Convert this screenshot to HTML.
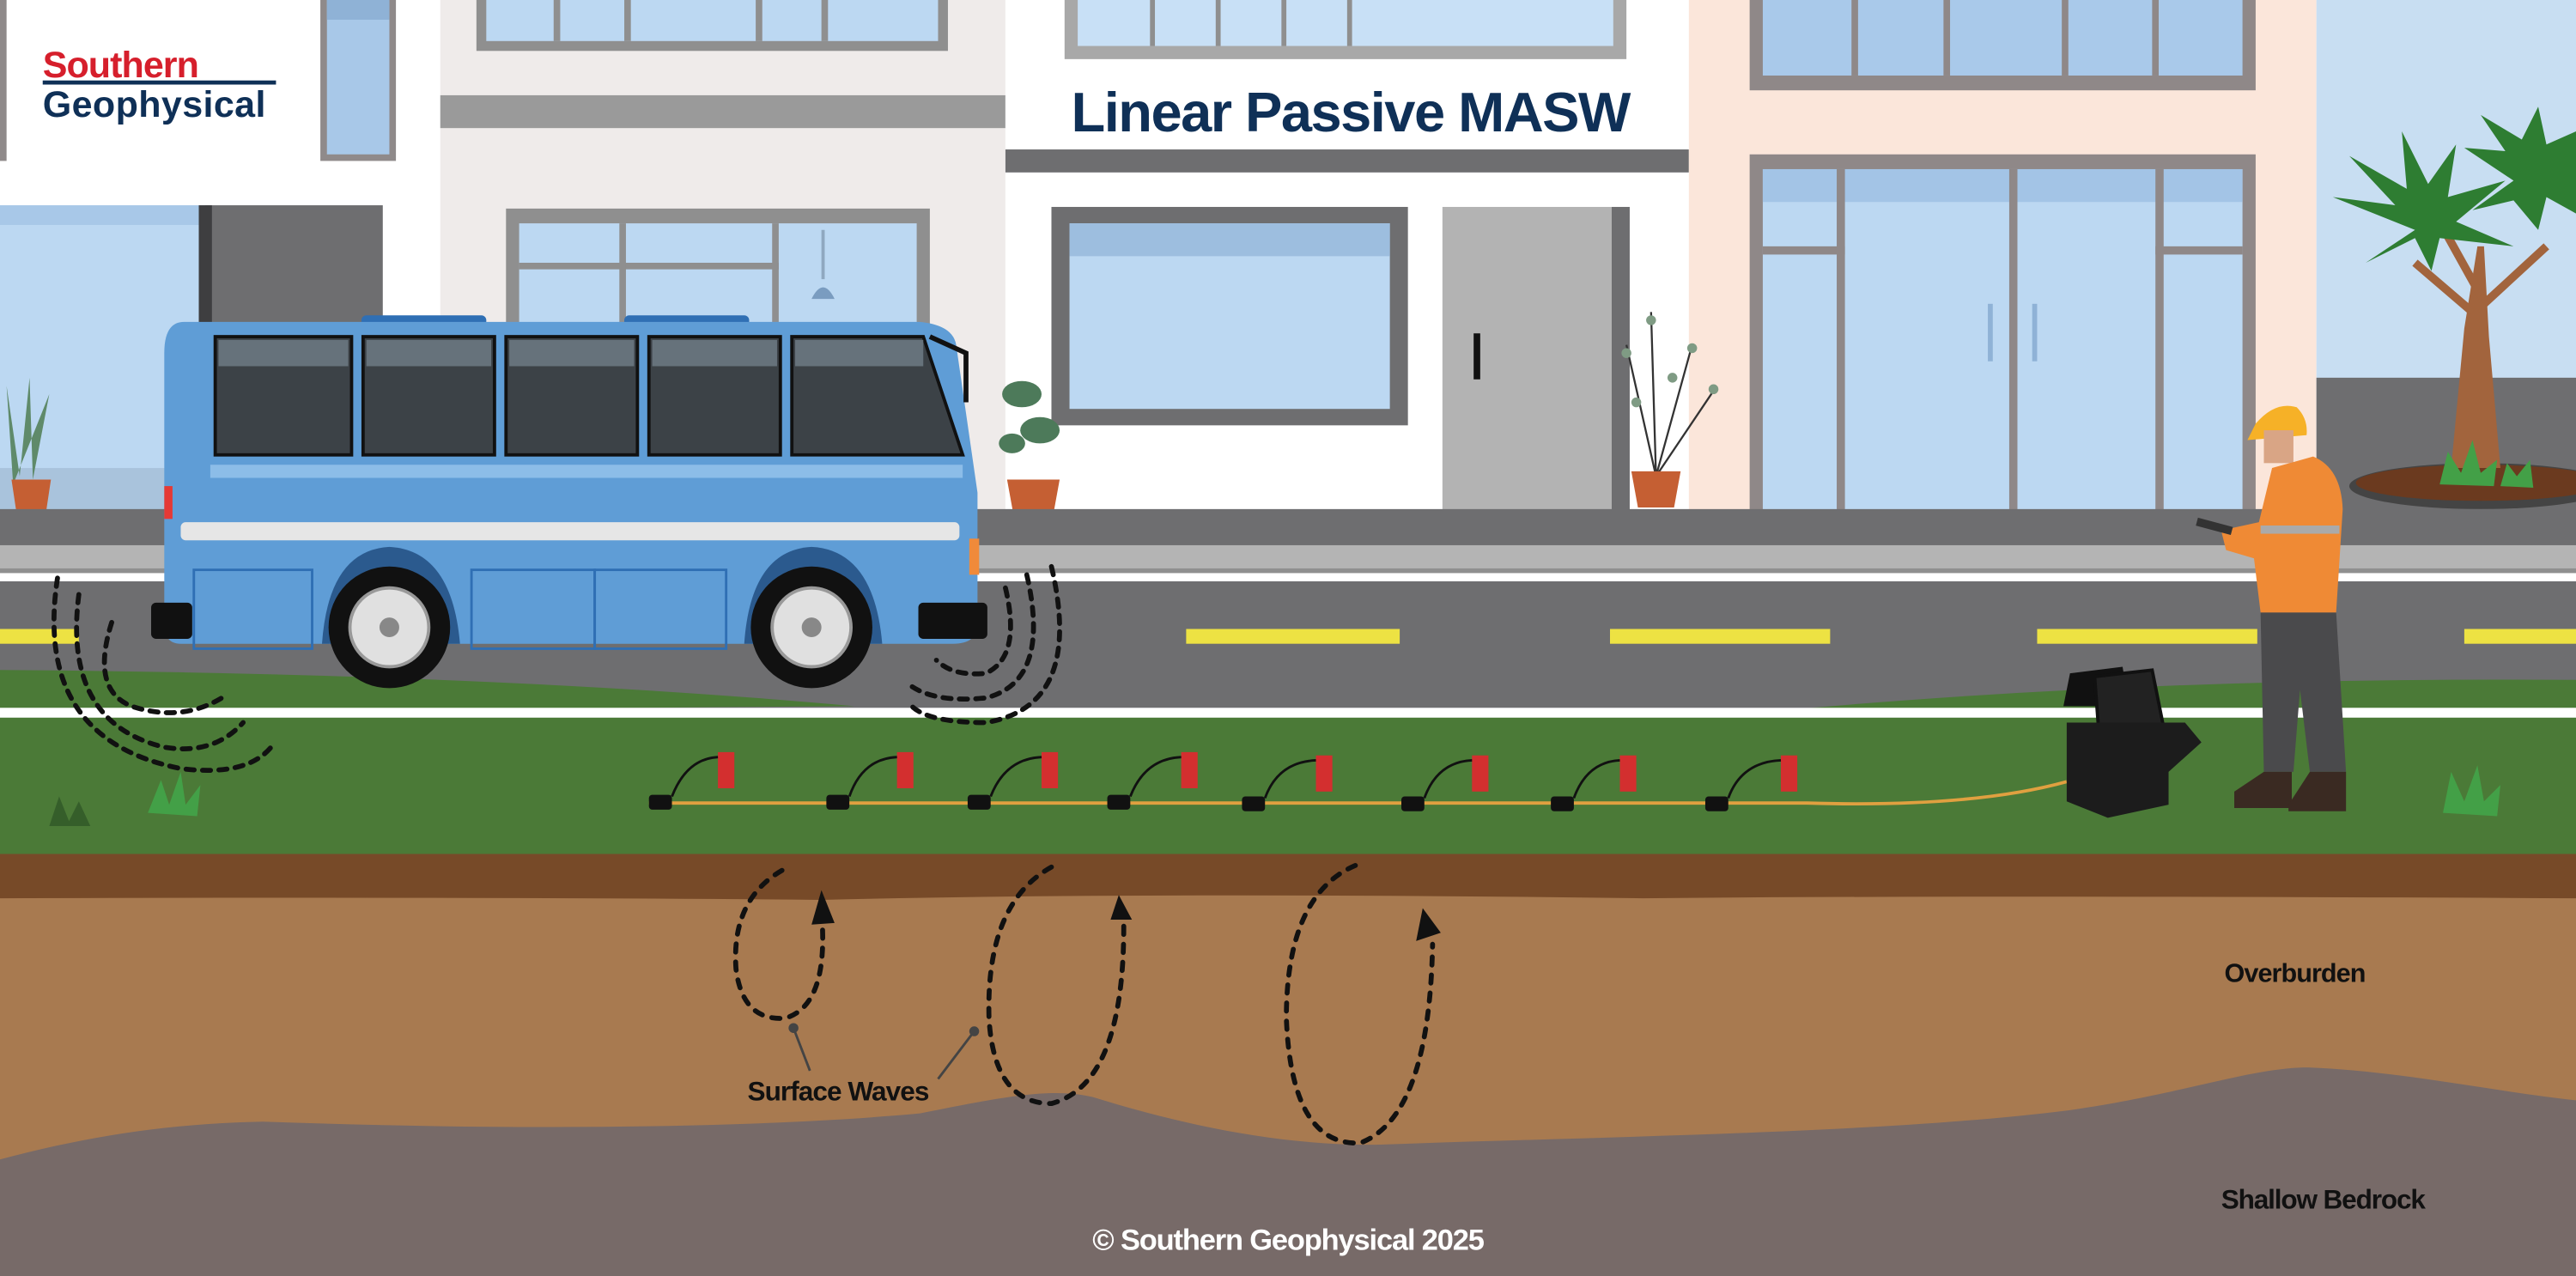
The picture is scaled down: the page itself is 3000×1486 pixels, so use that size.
<!DOCTYPE html>
<html><head><meta charset="utf-8"><style>
html,body{margin:0;padding:0;background:#fff;}
svg{display:block;}
text{font-family:"Liberation Sans",sans-serif;font-weight:bold;}
</style></head><body>
<svg width="3000" height="1486" viewBox="0 0 1568 777" preserveAspectRatio="none" xmlns="http://www.w3.org/2000/svg">
<!-- building 1 -->
<rect x="0" y="0" width="268" height="320" fill="#ffffff"/>
<rect x="0" y="0" width="4" height="98" fill="#8f8a8a"/>
<rect x="195" y="0" width="46" height="98" fill="#8f8a8a"/>
<rect x="199" y="0" width="38" height="94" fill="#a8c8e8"/>
<rect x="199" y="0" width="38" height="12" fill="#8fb2d6"/>
<text x="26" y="47" font-size="22.5" fill="#d61f2c" letter-spacing="-0.5">Southern</text>
<rect x="26" y="49" width="142" height="2.5" fill="#0f3057"/>
<text x="26" y="71" font-size="22.5" fill="#0f3057" letter-spacing="0.2">Geophysical</text>
<rect x="0" y="125" width="125" height="190" fill="#bcd8f2"/>
<rect x="0" y="125" width="125" height="12" fill="#a8c8e8"/>
<rect x="0" y="285" width="125" height="30" fill="#a9c3dc"/>
<rect x="125" y="125" width="108" height="190" fill="#6e6e70"/>
<rect x="121" y="125" width="8" height="190" fill="#3e3e40"/>
<!-- building 2 -->
<rect x="268" y="0" width="344" height="320" fill="#efebea"/>
<rect x="290" y="0" width="287" height="31" fill="#8f8f8f"/>
<rect x="296" y="0" width="275" height="25" fill="#bcd8f2"/>
<g fill="#8f8f8f"><rect x="337" y="0" width="4" height="25"/><rect x="380" y="0" width="4" height="25"/><rect x="460" y="0" width="4" height="25"/><rect x="500" y="0" width="4" height="25"/></g>
<rect x="268" y="58" width="344" height="20" fill="#9a9a9a"/>
<rect x="308" y="127" width="258" height="190" fill="#8f8f8f"/>
<rect x="316" y="136" width="242" height="180" fill="#bcd8f2"/>
<g fill="#8f8f8f"><rect x="316" y="160" width="158" height="4"/><rect x="377" y="136" width="4" height="180"/><rect x="470" y="136" width="4" height="180"/></g>
<rect x="500" y="140" width="2" height="30" fill="#8fa8c0"/><path d="M494 182 Q501 168 508 182 Z" fill="#7a9cc0"/>
<!-- building 3 -->
<rect x="612" y="0" width="416" height="320" fill="#ffffff"/>
<rect x="648" y="0" width="342" height="36" fill="#a8a8a8"/>
<rect x="656" y="0" width="326" height="28" fill="#c8e0f6"/>
<g fill="#8f8f8f"><rect x="700" y="0" width="3" height="28"/><rect x="740" y="0" width="3" height="28"/><rect x="780" y="0" width="3" height="28"/><rect x="820" y="0" width="3" height="28"/></g>
<text x="822" y="80" font-size="34" fill="#0f3057" text-anchor="middle" letter-spacing="-0.8">Linear Passive MASW</text>
<rect x="612" y="91" width="416" height="14" fill="#6e6e70"/>
<rect x="640" y="126" width="217" height="133" fill="#6e6e70"/>
<rect x="651" y="136" width="195" height="113" fill="#bcd8f2"/>
<rect x="651" y="136" width="195" height="20" fill="#9dbedf"/>
<rect x="878" y="126" width="103" height="186" fill="#b3b3b3"/>
<rect x="981" y="126" width="11" height="186" fill="#6e6e70"/>
<rect x="897" y="203" width="4" height="28" fill="#111"/>
<!-- building 4 -->
<rect x="1028" y="0" width="382" height="320" fill="#fbe6da"/>
<rect x="1065" y="0" width="308" height="55" fill="#8f8888"/>
<rect x="1073" y="0" width="292" height="46" fill="#a9c9ea"/>
<g fill="#8f8888"><rect x="1127" y="0" width="4" height="46"/><rect x="1183" y="0" width="4" height="46"/><rect x="1255" y="0" width="4" height="46"/><rect x="1310" y="0" width="4" height="46"/></g>
<rect x="1065" y="94" width="308" height="220" fill="#8f8888"/>
<rect x="1073" y="103" width="292" height="211" fill="#bcd8f2"/>
<rect x="1073" y="103" width="292" height="20" fill="#a3c4e6"/>
<g fill="#8f8888"><rect x="1118" y="103" width="5" height="211"/><rect x="1223" y="103" width="5" height="211"/><rect x="1312" y="103" width="5" height="211"/><rect x="1073" y="150" width="50" height="5"/><rect x="1312" y="150" width="53" height="5"/></g>
<rect x="1210" y="185" width="3" height="35" fill="#8fb2d6"/><rect x="1237" y="185" width="3" height="35" fill="#8fb2d6"/>
<!-- right sky -->
<rect x="1410" y="0" width="158" height="320" fill="#c8def2"/>
<rect x="1410" y="230" width="158" height="90" fill="#6e6e70"/>
<ellipse cx="1510" cy="296" rx="80" ry="14" fill="#444"/>
<ellipse cx="1510" cy="294" rx="76" ry="11" fill="#6b3a1f"/>
<path d="M1492 285 L1500 200 L1508 150 L1512 150 L1515 205 L1522 285 Z" fill="#a2643d"/>
<path d="M1505 190 L1470 160 M1510 180 L1485 135 M1512 185 L1550 150" stroke="#a2643d" stroke-width="5" fill="none"/>
<g fill="#2e7d32">
<path d="M1470 140 L1420 120 L1458 125 L1430 95 L1465 115 L1462 80 L1478 112 L1495 88 L1490 120 L1525 110 L1495 135 L1530 150 L1485 145 L1480 165 L1470 145 L1440 160 Z"/>
<path d="M1530 110 L1500 90 L1525 92 L1510 70 L1535 85 L1545 65 L1550 88 L1568 80 L1568 130 L1550 120 L1545 140 L1530 122 L1505 128 Z"/>
</g>
<g fill="#43a047"><path d="M1485 295 L1490 275 L1498 288 L1505 268 L1510 288 L1520 280 L1518 296 Z"/><path d="M1522 296 L1526 282 L1532 290 L1540 280 L1542 297 Z"/></g>
<!-- plants -->
<path d="M8 295 L4 235 L12 290 L18 230 L20 292 L30 240 Z" fill="#5f8a6a"/>
<path d="M7 292 h24 l-3 20 h-18 z" fill="#c55f33"/>
<g fill="#4d7a5a"><ellipse cx="622" cy="240" rx="12" ry="8"/><ellipse cx="633" cy="262" rx="12" ry="8"/><ellipse cx="616" cy="270" rx="8" ry="6"/></g>
<path d="M613 292 h32 l-4 22 h-24 z" fill="#c55f33"/>
<path d="M1008 290 L990 210 M1008 290 L1030 210 M1008 290 L1005 190 M1008 290 L1045 235" stroke="#333" stroke-width="1.2" fill="none"/>
<g fill="#7f9b84"><circle cx="990" cy="215" r="3"/><circle cx="1030" cy="212" r="3"/><circle cx="1005" cy="195" r="3"/><circle cx="1043" cy="237" r="3"/><circle cx="1018" cy="230" r="3"/><circle cx="996" cy="245" r="3"/></g>
<path d="M993 287 h30 l-4 22 h-22 z" fill="#c55f33"/>
<!-- sidewalk / road -->
<rect x="0" y="310" width="1568" height="24" fill="#6e6e70"/>
<rect x="0" y="332" width="1568" height="14" fill="#b4b4b4"/>
<rect x="0" y="346" width="1568" height="3" fill="#8f8f8f"/>
<rect x="0" y="349" width="1568" height="5" fill="#ffffff"/>
<rect x="0" y="354" width="1568" height="80" fill="#6e6e70"/>
<g fill="#ede243"><rect x="0" y="383" width="48" height="9"/><rect x="722" y="383" width="130" height="9"/><rect x="980" y="383" width="134" height="9"/><rect x="1240" y="383" width="134" height="9"/><rect x="1500" y="383" width="68" height="9"/></g>
<path d="M0 408 Q300 410 520 430 L0 434 Z" fill="#4b7a37"/>
<path d="M1070 434 Q1300 412 1568 414 L1568 434 Z" fill="#4b7a37"/>
<rect x="0" y="431" width="1568" height="6" fill="#ffffff"/>
<rect x="0" y="437" width="1568" height="85" fill="#4b7a37"/>
<!-- soil -->
<rect x="0" y="520" width="1568" height="257" fill="#a87a50"/>
<path d="M0 520 H1568 V547 Q1200 545 1000 547 Q700 543 500 548 Q300 546 0 547 Z" fill="#774a28"/>
<path d="M0 706 C60 690 110 684 160 683 C300 688 450 688 560 678 C610 668 640 662 665 668 C720 685 780 698 840 697 C980 692 1150 690 1260 676 C1330 666 1370 650 1405 650 C1460 652 1520 665 1568 670 V777 H0 Z" fill="#776a68"/>
<!-- bus -->
<rect x="220" y="192" width="76" height="8" rx="3" fill="#2f6fb4"/>
<rect x="380" y="192" width="76" height="8" rx="3" fill="#2f6fb4"/>
<path d="M112 196 H560 Q580 198 582 210 L595 300 V380 Q595 392 580 392 H110 Q100 392 100 380 V215 Q100 196 112 196 Z" fill="#5f9dd6"/>
<g fill="#3c4247" stroke="#111" stroke-width="2">
<rect x="131" y="205" width="83" height="72"/><rect x="221" y="205" width="80" height="72"/><rect x="308" y="205" width="80" height="72"/><rect x="395" y="205" width="80" height="72"/><path d="M482 205 H562 L586 277 H482 Z"/></g>
<g fill="#66727b"><rect x="133" y="207" width="79" height="16"/><rect x="223" y="207" width="76" height="16"/><rect x="310" y="207" width="76" height="16"/><rect x="397" y="207" width="76" height="16"/><rect x="484" y="207" width="78" height="16"/></g>
<path d="M566 205 L588 215 L588 245" stroke="#111" stroke-width="3" fill="none"/>
<rect x="128" y="283" width="458" height="8" fill="#8cbde8"/>
<rect x="110" y="318" width="474" height="11" rx="3" fill="#e6e6e6"/>
<rect x="100" y="296" width="5" height="20" fill="#e53935"/>
<rect x="590" y="328" width="6" height="22" fill="#f08a3a"/>
<g fill="none" stroke="#2f6fb4" stroke-width="1.5"><rect x="118" y="347" width="72" height="48"/><rect x="287" y="347" width="75" height="48"/><rect x="362" y="347" width="80" height="48"/></g>
<path d="M196 392 Q200 335 237 333 Q275 335 280 392 Z" fill="#2b5a8e"/>
<path d="M453 392 Q457 335 494 333 Q532 335 537 392 Z" fill="#2b5a8e"/>
<g><circle cx="237" cy="382" r="37" fill="#111"/><circle cx="237" cy="382" r="24" fill="#e0e0e0" stroke="#999" stroke-width="2"/><circle cx="237" cy="382" r="6" fill="#888"/></g>
<g><circle cx="494" cy="382" r="37" fill="#111"/><circle cx="494" cy="382" r="24" fill="#e0e0e0" stroke="#999" stroke-width="2"/><circle cx="494" cy="382" r="6" fill="#888"/></g>
<rect x="92" y="367" width="25" height="22" rx="3" fill="#111"/>
<rect x="559" y="367" width="42" height="22" rx="3" fill="#111"/>
<!-- source waves -->
<g fill="none" stroke="#111" stroke-width="3" stroke-dasharray="5 5" stroke-linecap="round">
<path d="M68 379 Q55 420 80 430 Q110 440 135 425"/>
<path d="M48 362 Q38 440 100 455 Q130 460 148 440"/>
<path d="M35 352 Q20 450 110 468 Q150 473 165 455"/>
<path d="M612 358 Q622 400 600 410 Q580 412 570 402"/>
<path d="M625 350 Q640 415 600 425 Q570 428 555 418"/>
<path d="M640 345 Q660 430 600 440 Q565 440 555 430"/>
</g>
<!-- small plants -->
<path d="M90 495 L98 475 L103 490 L110 470 L113 490 L122 478 L120 497 Z" fill="#43a047"/>
<path d="M30 503 L36 485 L42 500 L48 488 L55 503 Z" fill="#355e2a"/>
<path d="M1487 495 L1492 470 L1500 488 L1508 466 L1512 488 L1522 478 L1520 497 Z" fill="#43a047"/>
<!-- cable & geophones -->
<path d="M395 489 L1100 489 Q1200 492 1258 476" stroke="#e0a040" stroke-width="2" fill="none"/>
<g fill="#d32f2f">
<rect x="437" y="458" width="10" height="22"/><rect x="546" y="458" width="10" height="22"/><rect x="634" y="458" width="10" height="22"/><rect x="719" y="458" width="10" height="22"/><rect x="801" y="460" width="10" height="22"/><rect x="896" y="460" width="10" height="22"/><rect x="986" y="460" width="10" height="22"/><rect x="1084" y="460" width="10" height="22"/></g>
<g fill="#111">
<rect x="395" y="484" width="14" height="9" rx="2"/><rect x="503" y="484" width="14" height="9" rx="2"/><rect x="589" y="484" width="14" height="9" rx="2"/><rect x="674" y="484" width="14" height="9" rx="2"/><rect x="756" y="485" width="14" height="9" rx="2"/><rect x="853" y="485" width="14" height="9" rx="2"/><rect x="944" y="485" width="14" height="9" rx="2"/><rect x="1038" y="485" width="14" height="9" rx="2"/></g>
<g stroke="#111" stroke-width="1.5" fill="none">
<path d="M409 485 Q418 462 437 461"/><path d="M517 485 Q525 462 546 461"/><path d="M603 485 Q612 462 634 461"/><path d="M688 485 Q697 462 719 461"/><path d="M770 486 Q778 464 801 463"/><path d="M867 486 Q875 464 896 463"/><path d="M958 486 Q966 464 986 463"/><path d="M1052 486 Q1060 464 1084 463"/></g>
<!-- recorder box -->
<path d="M1256 430 L1260 410 L1292 406 L1296 430 Z" fill="#111"/>
<path d="M1278 452 L1275 412 L1310 408 L1318 448 Z" fill="#222" stroke="#111" stroke-width="2"/>
<path d="M1258 440 H1330 L1340 452 L1320 470 L1320 490 L1283 498 L1258 488 Z" fill="#1c1c1c"/>
<!-- worker -->
<path d="M1373 258 Q1385 244 1398 248 Q1405 255 1404 265 L1368 268 Z" fill="#f6b127"/>
<rect x="1378" y="262" width="18" height="20" fill="#d9a585"/>
<path d="M1383 285 L1408 278 Q1425 285 1426 310 L1422 373 H1376 L1372 340 L1355 335 L1352 323 L1375 318 Z" fill="#ef8a35"/>
<rect x="1376" y="320" width="48" height="5" fill="#aaa"/>
<rect x="1337" y="318" width="22" height="5" fill="#333" transform="rotate(15 1348 320)"/>
<path d="M1376 373 H1422 L1428 470 H1406 L1400 420 L1396 470 H1378 Z" fill="#4a4a4c"/>
<path d="M1360 482 L1378 470 H1395 V492 H1360 Z" fill="#3a2a22"/>
<path d="M1393 490 L1406 470 H1428 V494 H1393 Z" fill="#3a2a22"/>
<!-- surface waves loops -->
<g fill="none" stroke="#111" stroke-width="3" stroke-dasharray="5 6" stroke-linecap="round">
<path d="M476 530 Q445 548 448 590 Q452 622 478 620 Q505 612 500 555"/>
<path d="M640 528 Q600 550 602 620 Q605 672 640 672 Q685 660 684 560"/>
<path d="M825 527 Q783 545 783 620 Q786 698 828 696 Q870 680 872 575"/>
</g>
<g fill="#111">
<path d="M494 563 L500 542 L508 562 Z"/>
<path d="M676 560 L681 545 L689 560 Z"/>
<path d="M862 573 L866 553 L877 568 Z"/>
</g>
<g stroke="#444" stroke-width="1.5"><line x1="483" y1="626" x2="493" y2="652"/><line x1="593" y1="628" x2="571" y2="657"/></g>
<circle cx="483" cy="626" r="3" fill="#444"/><circle cx="593" cy="628" r="3" fill="#444"/>
<text x="455" y="670" font-size="16.5" fill="#111" letter-spacing="-0.5">Surface Waves</text>
<text x="1354" y="598" font-size="16" fill="#111" letter-spacing="-0.5">Overburden</text>
<text x="1352" y="736" font-size="16.5" fill="#111" letter-spacing="-0.6">Shallow Bedrock</text>
<text x="665" y="761" font-size="18" fill="#ffffff" letter-spacing="-0.6">© Southern Geophysical 2025</text>
</svg>
</body></html>
